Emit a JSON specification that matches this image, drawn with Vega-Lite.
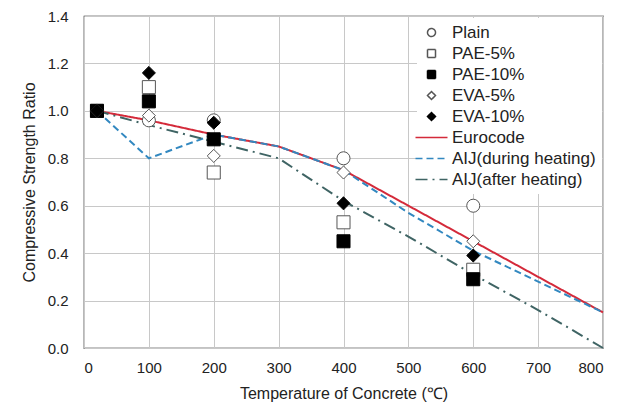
{
  "$schema": "https://vega.github.io/schema/vega-lite/v6.json",
  "width": 519,
  "height": 332,
  "autosize": {"type": "none"},
  "padding": {"left": 84, "top": 16, "right": 29, "bottom": 58},
  "background": "white",
  "config": {
    "font": "Liberation Sans",
    "view": {"stroke": "#111111", "strokeWidth": 1.2},
    "axis": {
      "grid": true,
      "gridColor": "#c8c8c8",
      "gridWidth": 1,
      "domain": false,
      "ticks": false,
      "labelFontSize": 15,
      "labelColor": "#222222",
      "titleFontSize": 16,
      "titleFontWeight": "normal",
      "titleColor": "#222222"
    },
    "legend": {
      "orient": "none",
      "legendX": 333,
      "legendY": 2,
      "title": null,
      "fillColor": "white",
      "padding": 6,
      "labelFontSize": 17,
      "labelColor": "#222222",
      "labelOffset": 12,
      "rowPadding": 3,
      "symbolSize": 64,
      "symbolStrokeWidth": 1.5,
      "labelLimit": 250
    }
  },
  "datasets": {
    "measured": [
      {"temp": 20, "ratio": 1.0, "series": "Plain"},
      {"temp": 100, "ratio": 0.96, "series": "Plain"},
      {"temp": 200, "ratio": 0.96, "series": "Plain"},
      {"temp": 400, "ratio": 0.80, "series": "Plain"},
      {"temp": 600, "ratio": 0.60, "series": "Plain"},
      {"temp": 20, "ratio": 1.0, "series": "PAE-5%"},
      {"temp": 100, "ratio": 1.10, "series": "PAE-5%"},
      {"temp": 200, "ratio": 0.74, "series": "PAE-5%"},
      {"temp": 400, "ratio": 0.53, "series": "PAE-5%"},
      {"temp": 600, "ratio": 0.33, "series": "PAE-5%"},
      {"temp": 20, "ratio": 1.0, "series": "PAE-10%"},
      {"temp": 100, "ratio": 1.04, "series": "PAE-10%"},
      {"temp": 200, "ratio": 0.88, "series": "PAE-10%"},
      {"temp": 400, "ratio": 0.45, "series": "PAE-10%"},
      {"temp": 600, "ratio": 0.29, "series": "PAE-10%"},
      {"temp": 20, "ratio": 1.0, "series": "EVA-5%"},
      {"temp": 100, "ratio": 0.98, "series": "EVA-5%"},
      {"temp": 200, "ratio": 0.81, "series": "EVA-5%"},
      {"temp": 400, "ratio": 0.74, "series": "EVA-5%"},
      {"temp": 600, "ratio": 0.45, "series": "EVA-5%"},
      {"temp": 20, "ratio": 1.0, "series": "EVA-10%"},
      {"temp": 100, "ratio": 1.16, "series": "EVA-10%"},
      {"temp": 200, "ratio": 0.95, "series": "EVA-10%"},
      {"temp": 400, "ratio": 0.61, "series": "EVA-10%"},
      {"temp": 600, "ratio": 0.39, "series": "EVA-10%"}
    ],
    "codes": [
      {"temp": 20, "ratio": 1.0, "series": "Eurocode"},
      {"temp": 100, "ratio": 0.96, "series": "Eurocode"},
      {"temp": 200, "ratio": 0.90, "series": "Eurocode"},
      {"temp": 300, "ratio": 0.85, "series": "Eurocode"},
      {"temp": 400, "ratio": 0.75, "series": "Eurocode"},
      {"temp": 500, "ratio": 0.60, "series": "Eurocode"},
      {"temp": 600, "ratio": 0.45, "series": "Eurocode"},
      {"temp": 700, "ratio": 0.30, "series": "Eurocode"},
      {"temp": 800, "ratio": 0.15, "series": "Eurocode"},
      {"temp": 20, "ratio": 1.0, "series": "AIJ(during heating)"},
      {"temp": 100, "ratio": 0.80, "series": "AIJ(during heating)"},
      {"temp": 200, "ratio": 0.90, "series": "AIJ(during heating)"},
      {"temp": 300, "ratio": 0.85, "series": "AIJ(during heating)"},
      {"temp": 400, "ratio": 0.75, "series": "AIJ(during heating)"},
      {"temp": 500, "ratio": 0.57, "series": "AIJ(during heating)"},
      {"temp": 600, "ratio": 0.41, "series": "AIJ(during heating)"},
      {"temp": 700, "ratio": 0.28, "series": "AIJ(during heating)"},
      {"temp": 800, "ratio": 0.15, "series": "AIJ(during heating)"},
      {"temp": 20, "ratio": 1.0, "series": "AIJ(after heating)"},
      {"temp": 100, "ratio": 0.94, "series": "AIJ(after heating)"},
      {"temp": 200, "ratio": 0.87, "series": "AIJ(after heating)"},
      {"temp": 300, "ratio": 0.80, "series": "AIJ(after heating)"},
      {"temp": 400, "ratio": 0.62, "series": "AIJ(after heating)"},
      {"temp": 500, "ratio": 0.47, "series": "AIJ(after heating)"},
      {"temp": 600, "ratio": 0.31, "series": "AIJ(after heating)"},
      {"temp": 700, "ratio": 0.16, "series": "AIJ(after heating)"},
      {"temp": 800, "ratio": 0.0, "series": "AIJ(after heating)"}
    ]
  },
  "encoding": {
    "x": {
      "field": "temp",
      "type": "quantitative",
      "scale": {"domain": [0, 800], "nice": false},
      "axis": {
        "title": "Temperature of Concrete (℃)",
        "values": [0, 100, 200, 300, 400, 500, 600, 700, 800],
        "labelPadding": 12,
        "titlePadding": 10
      }
    },
    "y": {
      "field": "ratio",
      "type": "quantitative",
      "scale": {"domain": [0, 1.4], "nice": false},
      "axis": {
        "title": "Compressive Strength Ratio",
        "values": [0, 0.2, 0.4, 0.6, 0.8, 1.0, 1.2, 1.4],
        "format": ".1f",
        "labelPadding": 16,
        "titlePadding": 10
      }
    }
  },
  "layer": [
    {
      "data": {"name": "codes"},
      "mark": {"type": "line", "strokeWidth": 2},
      "encoding": {
        "stroke": {
          "field": "series",
          "type": "nominal",
          "scale": {
            "domain": ["Plain", "PAE-5%", "PAE-10%", "EVA-5%", "EVA-10%", "Eurocode", "AIJ(during heating)", "AIJ(after heating)"],
            "range": ["#555555", "#555555", "#000000", "#555555", "#000000", "#d42a3a", "#3288c0", "#3f6464"]
          }
        },
        "strokeDash": {
          "field": "series",
          "type": "nominal",
          "scale": {
            "domain": ["Plain", "PAE-5%", "PAE-10%", "EVA-5%", "EVA-10%", "Eurocode", "AIJ(during heating)", "AIJ(after heating)"],
            "range": [[1, 0], [1, 0], [1, 0], [1, 0], [1, 0], [1, 0], [7, 4], [12, 5, 2, 5]]
          }
        }
      }
    },
    {
      "data": {"name": "measured"},
      "mark": {"type": "point", "size": 170, "strokeWidth": 1, "opacity": 1},
      "encoding": {
        "shape": {
          "field": "series",
          "type": "nominal",
          "scale": {
            "domain": ["Plain", "PAE-5%", "PAE-10%", "EVA-5%", "EVA-10%", "Eurocode", "AIJ(during heating)", "AIJ(after heating)"],
            "range": ["circle", "square", "square", "diamond", "diamond", "M-4,0H4", "M-4,0H4", "M-4,0H4"]
          }
        },
        "fill": {
          "field": "series",
          "type": "nominal",
          "scale": {
            "domain": ["Plain", "PAE-5%", "PAE-10%", "EVA-5%", "EVA-10%", "Eurocode", "AIJ(during heating)", "AIJ(after heating)"],
            "range": ["#ffffff", "#ffffff", "#000000", "#ffffff", "#000000", "transparent", "transparent", "transparent"]
          }
        },
        "stroke": {
          "field": "series",
          "type": "nominal",
          "scale": {
            "domain": ["Plain", "PAE-5%", "PAE-10%", "EVA-5%", "EVA-10%", "Eurocode", "AIJ(during heating)", "AIJ(after heating)"],
            "range": ["#555555", "#555555", "#000000", "#555555", "#000000", "#d42a3a", "#3288c0", "#3f6464"]
          }
        }
      }
    }
  ]
}
